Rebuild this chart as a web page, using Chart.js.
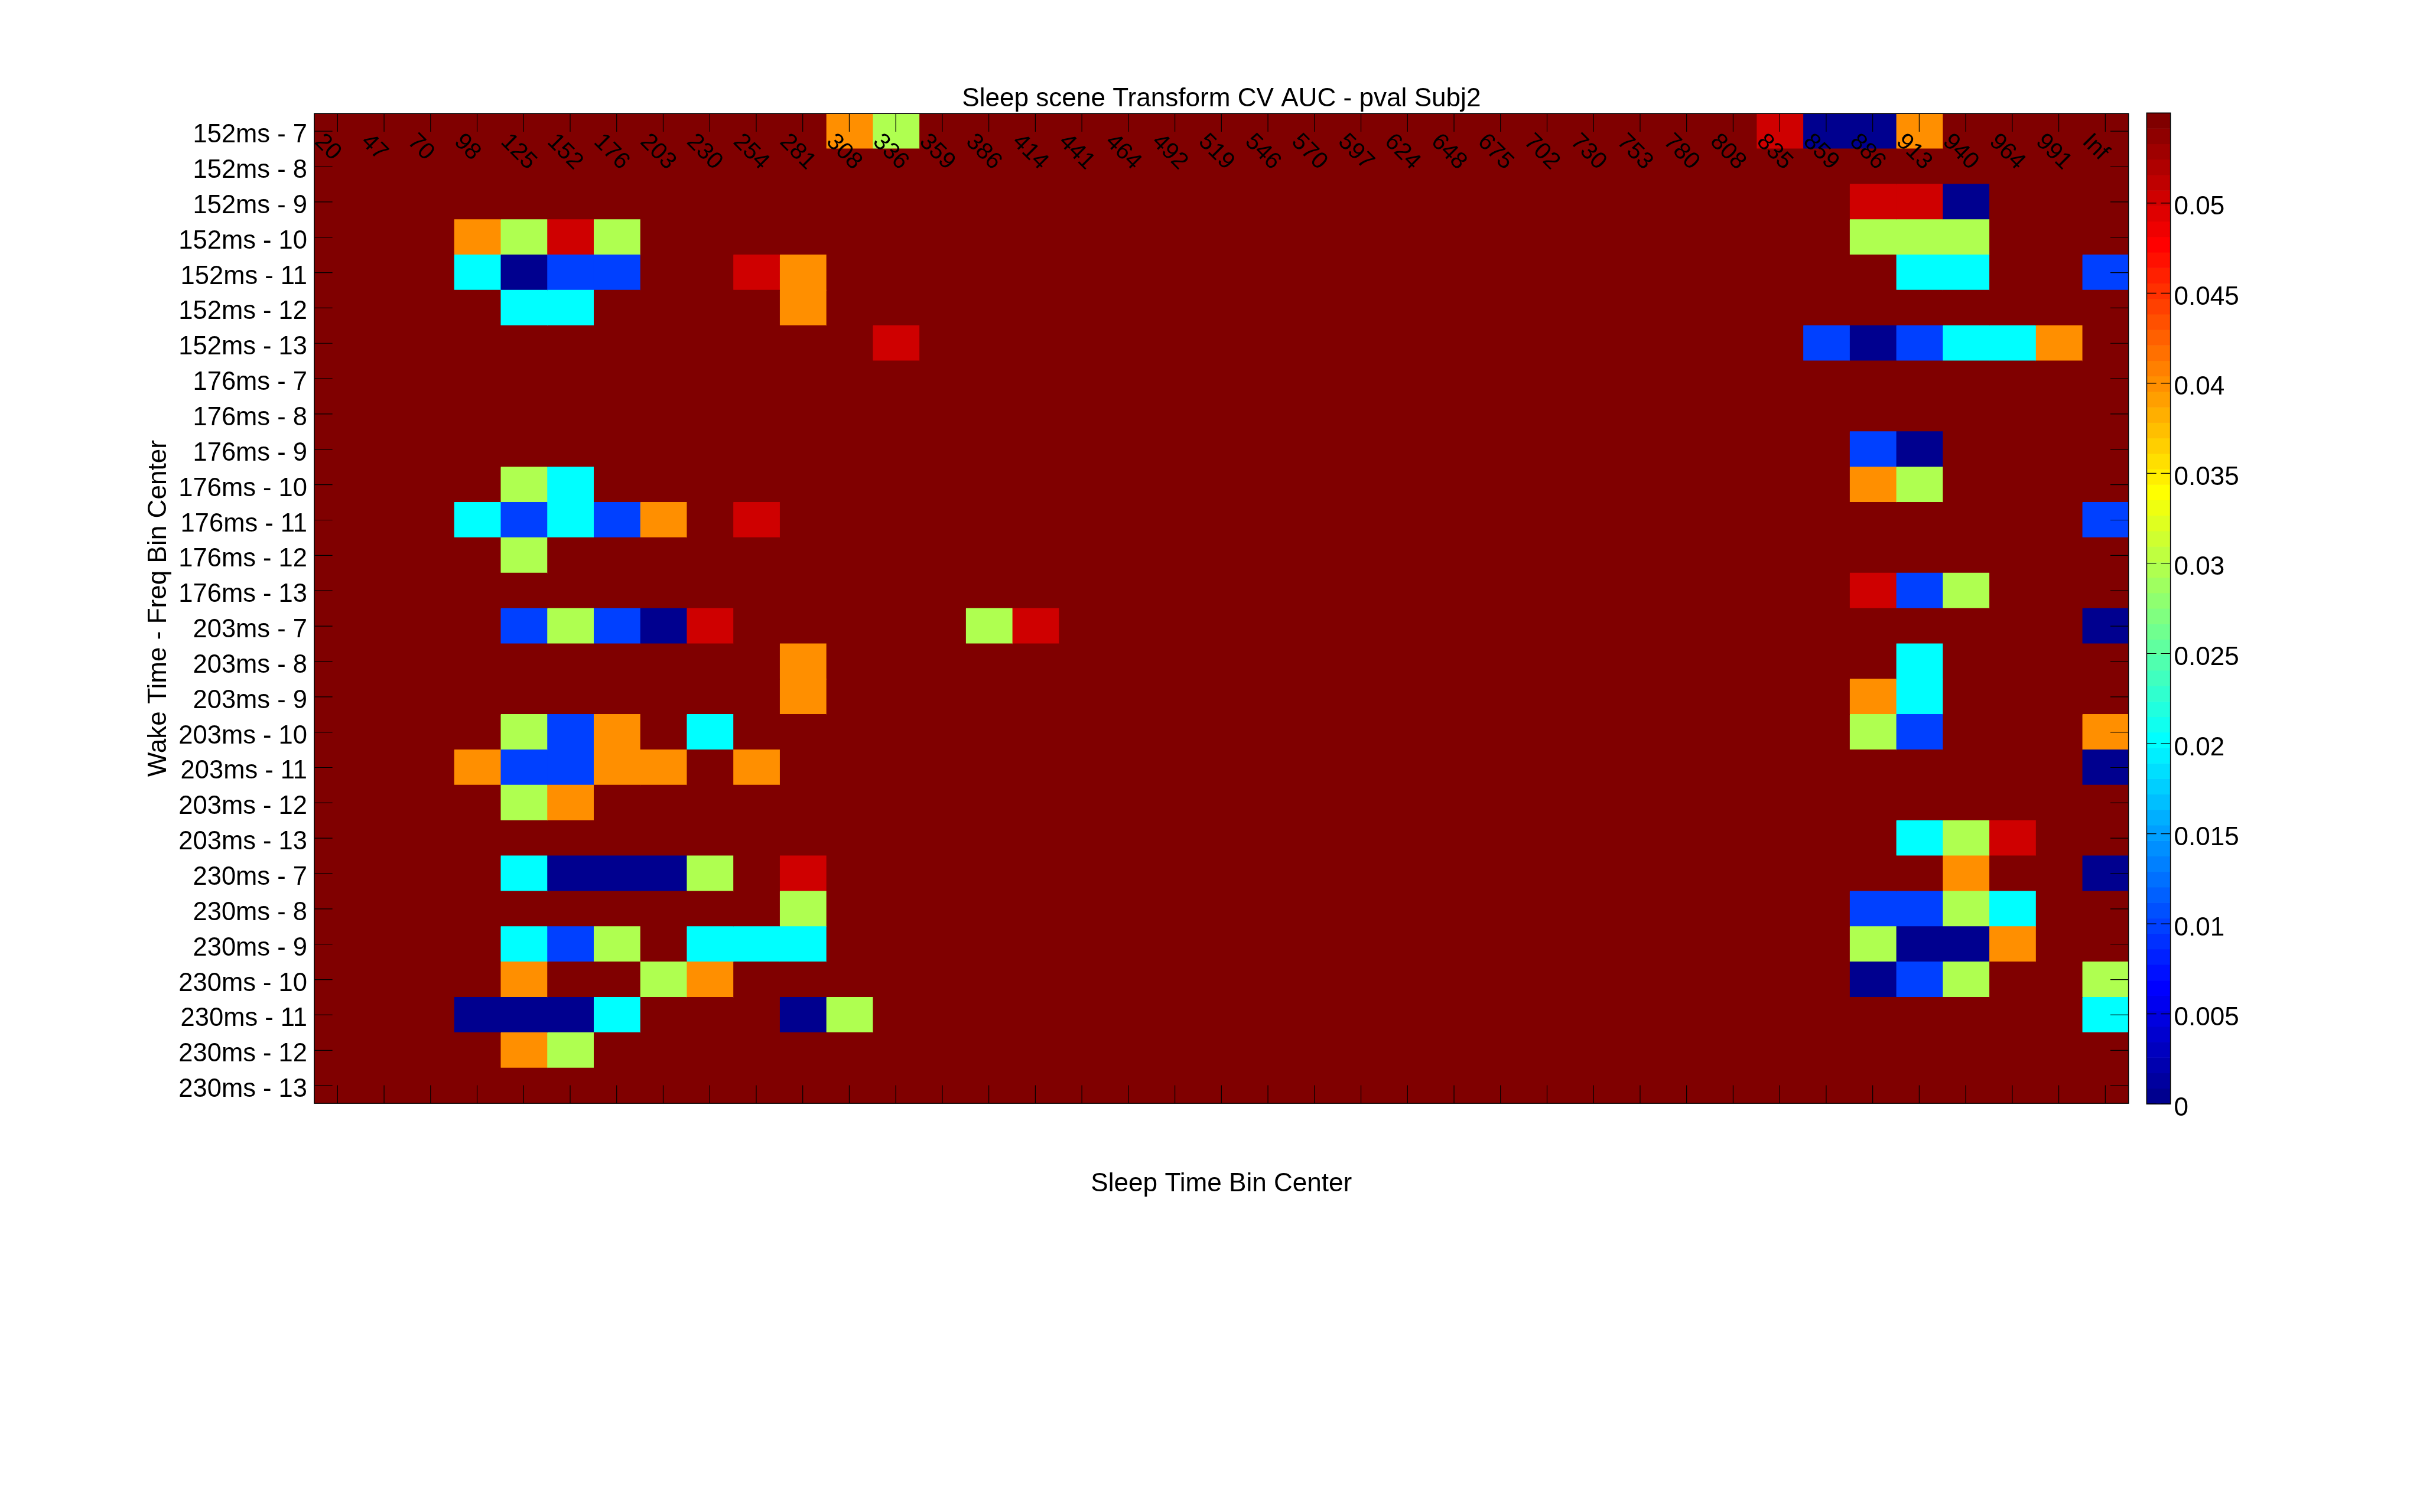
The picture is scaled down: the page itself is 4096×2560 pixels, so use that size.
<!DOCTYPE html>
<html>
<head>
<meta charset="utf-8">
<script src="https://cdn.jsdelivr.net/npm/chart.js@4/dist/chart.umd.min.js"></script>
<style>
html,body{margin:0;padding:0;background:#fff;}
#wrap{width:4096px;height:2560px;position:relative;}
</style>
</head>
<body>
<div id="wrap"><canvas id="c" width="4096" height="2560"></canvas></div>
<script>
// ---------------- DATA ----------------
// p-values; N marks cells above the colour range (not significant, drawn as the top colour)
const N = 0.1;

const sleepBins = ['20','47','70','98','125','152','176','203','230','254','281','308','336','359','386','414','441','464','492','519','546','570','597','624','648','675','702','730','753','780','808','835','859','886','913','940','964','991','Inf'];

const rowLabels = [
  '152ms - 7','152ms - 8','152ms - 9','152ms - 10','152ms - 11','152ms - 12','152ms - 13',
  '176ms - 7','176ms - 8','176ms - 9','176ms - 10','176ms - 11','176ms - 12','176ms - 13',
  '203ms - 7','203ms - 8','203ms - 9','203ms - 10','203ms - 11','203ms - 12','203ms - 13',
  '230ms - 7','230ms - 8','230ms - 9','230ms - 10','230ms - 11','230ms - 12','230ms - 13'
];

const pval152 = [
  [N,N,N,N,N,N,N,N,N,N, N,.04,.03,N,N,N,N,N,N,N, N,N,N,N,N,N,N,N,N,N, N,.05,0,0,.04,N,N,N,N],
  [N,N,N,N,N,N,N,N,N,N, N,N,N,N,N,N,N,N,N,N, N,N,N,N,N,N,N,N,N,N, N,N,N,N,N,N,N,N,N],
  [N,N,N,N,N,N,N,N,N,N, N,N,N,N,N,N,N,N,N,N, N,N,N,N,N,N,N,N,N,N, N,N,N,.05,.05,0,N,N,N],
  [N,N,N,.04,.03,.05,.03,N,N,N, N,N,N,N,N,N,N,N,N,N, N,N,N,N,N,N,N,N,N,N, N,N,N,.03,.03,.03,N,N,N],
  [N,N,N,.02,0,.01,.01,N,N,.05, .04,N,N,N,N,N,N,N,N,N, N,N,N,N,N,N,N,N,N,N, N,N,N,N,.02,.02,N,N,.01],
  [N,N,N,N,.02,.02,N,N,N,N, .04,N,N,N,N,N,N,N,N,N, N,N,N,N,N,N,N,N,N,N, N,N,N,N,N,N,N,N,N],
  [N,N,N,N,N,N,N,N,N,N, N,N,.05,N,N,N,N,N,N,N, N,N,N,N,N,N,N,N,N,N, N,N,.01,0,.01,.02,.02,.04,N]
];
const pval176 = [
  [N,N,N,N,N,N,N,N,N,N, N,N,N,N,N,N,N,N,N,N, N,N,N,N,N,N,N,N,N,N, N,N,N,N,N,N,N,N,N],
  [N,N,N,N,N,N,N,N,N,N, N,N,N,N,N,N,N,N,N,N, N,N,N,N,N,N,N,N,N,N, N,N,N,N,N,N,N,N,N],
  [N,N,N,N,N,N,N,N,N,N, N,N,N,N,N,N,N,N,N,N, N,N,N,N,N,N,N,N,N,N, N,N,N,.01,0,N,N,N,N],
  [N,N,N,N,.03,.02,N,N,N,N, N,N,N,N,N,N,N,N,N,N, N,N,N,N,N,N,N,N,N,N, N,N,N,.04,.03,N,N,N,N],
  [N,N,N,.02,.01,.02,.01,.04,N,.05, N,N,N,N,N,N,N,N,N,N, N,N,N,N,N,N,N,N,N,N, N,N,N,N,N,N,N,N,.01],
  [N,N,N,N,.03,N,N,N,N,N, N,N,N,N,N,N,N,N,N,N, N,N,N,N,N,N,N,N,N,N, N,N,N,N,N,N,N,N,N],
  [N,N,N,N,N,N,N,N,N,N, N,N,N,N,N,N,N,N,N,N, N,N,N,N,N,N,N,N,N,N, N,N,N,.05,.01,.03,N,N,N]
];
const pval203 = [
  [N,N,N,N,.01,.03,.01,0,.05,N, N,N,N,N,.03,.05,N,N,N,N, N,N,N,N,N,N,N,N,N,N, N,N,N,N,N,N,N,N,0],
  [N,N,N,N,N,N,N,N,N,N, .04,N,N,N,N,N,N,N,N,N, N,N,N,N,N,N,N,N,N,N, N,N,N,N,.02,N,N,N,N],
  [N,N,N,N,N,N,N,N,N,N, .04,N,N,N,N,N,N,N,N,N, N,N,N,N,N,N,N,N,N,N, N,N,N,.04,.02,N,N,N,N],
  [N,N,N,N,.03,.01,.04,N,.02,N, N,N,N,N,N,N,N,N,N,N, N,N,N,N,N,N,N,N,N,N, N,N,N,.03,.01,N,N,N,.04],
  [N,N,N,.04,.01,.01,.04,.04,N,.04, N,N,N,N,N,N,N,N,N,N, N,N,N,N,N,N,N,N,N,N, N,N,N,N,N,N,N,N,0],
  [N,N,N,N,.03,.04,N,N,N,N, N,N,N,N,N,N,N,N,N,N, N,N,N,N,N,N,N,N,N,N, N,N,N,N,N,N,N,N,N],
  [N,N,N,N,N,N,N,N,N,N, N,N,N,N,N,N,N,N,N,N, N,N,N,N,N,N,N,N,N,N, N,N,N,N,.02,.03,.05,N,N]
];
const pval230 = [
  [N,N,N,N,.02,0,0,0,.03,N, .05,N,N,N,N,N,N,N,N,N, N,N,N,N,N,N,N,N,N,N, N,N,N,N,N,.04,N,N,0],
  [N,N,N,N,N,N,N,N,N,N, .03,N,N,N,N,N,N,N,N,N, N,N,N,N,N,N,N,N,N,N, N,N,N,.01,.01,.03,.02,N,N],
  [N,N,N,N,.02,.01,.03,N,.02,.02, .02,N,N,N,N,N,N,N,N,N, N,N,N,N,N,N,N,N,N,N, N,N,N,.03,0,0,.04,N,N],
  [N,N,N,N,.04,N,N,.03,.04,N, N,N,N,N,N,N,N,N,N,N, N,N,N,N,N,N,N,N,N,N, N,N,N,0,.01,.03,N,N,.03],
  [N,N,N,0,0,0,.02,N,N,N, 0,.03,N,N,N,N,N,N,N,N, N,N,N,N,N,N,N,N,N,N, N,N,N,N,N,N,N,N,.02],
  [N,N,N,N,.04,.03,N,N,N,N, N,N,N,N,N,N,N,N,N,N, N,N,N,N,N,N,N,N,N,N, N,N,N,N,N,N,N,N,N],
  [N,N,N,N,N,N,N,N,N,N, N,N,N,N,N,N,N,N,N,N, N,N,N,N,N,N,N,N,N,N, N,N,N,N,N,N,N,N,N]
];

const colorMax = 0.055;
const cbarTicks = [0, 0.005, 0.01, 0.015, 0.02, 0.025, 0.03, 0.035, 0.04, 0.045, 0.05];
const cbarTickLabels = ['0','0.005','0.01','0.015','0.02','0.025','0.03','0.035','0.04','0.045','0.05'];

const titleText = 'Sleep scene Transform CV AUC - pval Subj2';
const xTitleText = 'Sleep Time Bin Center';
const yTitleText = 'Wake Time - Freq Bin Center';

// ---------------- COLOURS (jet, 64 levels) ----------------
function jetRGB(n) { // n = 1..64
  const r = n <= 24 ? 0 : n <= 40 ? (n - 24) / 16 : n <= 56 ? 1 : 1 - (n - 56) / 16;
  const g = n <= 8 ? 0 : n <= 24 ? (n - 8) / 16 : n <= 40 ? 1 : n <= 56 ? 1 - (n - 40) / 16 : 0;
  const b = n <= 8 ? 0.5 + n / 16 : n <= 24 ? 1 : n <= 40 ? 1 - (n - 24) / 16 : 0;
  return 'rgb(' + Math.round(r * 255) + ',' + Math.round(g * 255) + ',' + Math.round(b * 255) + ')';
}
function colorFor(p) {
  const n = Math.min(64, Math.floor(p / colorMax * 64) + 1);
  return jetRGB(n);
}

// ---------------- LAYOUT (output px) ----------------
const FONT = '"Liberation Sans", Arial, Helvetica, sans-serif';
const L = {
  areaLeft: 531.96, areaTop: 192.2, areaRight: 3602.7, areaBottom: 1868.1,
  cbLeft: 3633.4, cbRight: 3673.7, cbTop: 191.3, cbBottom: 1869.2,
  cbLabelX: 3679.5, tickLen: 30.7, cbTickLen: 16.3,
  titleBase: 179.7, xTitleBase: 2017.3, yTitleBase: 281.2,
  xLabBase: 241.5, xLabFont: 40, font: 44.1
};

const pRows = [...pval152, ...pval176, ...pval203, ...pval230];

const datasets = sleepBins.map((bin, c) => ({
  label: bin,
  data: pRows.map(() => [c, c + 1]),
  backgroundColor: pRows.map(row => colorFor(row[c])),
  borderWidth: 0,
  inflateAmount: 0.6,
  barPercentage: 1,
  categoryPercentage: 1,
  grouped: false
}));

const decor = {
  id: 'decor',
  afterDatasetsDraw(chart) {
    const ctx = chart.ctx;
    const xs = chart.scales.x, ys = chart.scales.y;
    const a = chart.chartArea;
    ctx.save();
    // inward tick marks
    ctx.strokeStyle = '#000';
    ctx.lineWidth = 1.2;
    ctx.beginPath();
    sleepBins.forEach((b, c) => {
      const x = xs.getPixelForValue(c + 0.5);
      ctx.moveTo(x, a.top); ctx.lineTo(x, a.top + L.tickLen);
      ctx.moveTo(x, a.bottom); ctx.lineTo(x, a.bottom - L.tickLen);
    });
    rowLabels.forEach((r, i) => {
      const y = ys.getPixelForValue(i);
      ctx.moveTo(a.left, y); ctx.lineTo(a.left + L.tickLen, y);
      ctx.moveTo(a.right, y); ctx.lineTo(a.right - L.tickLen, y);
    });
    ctx.stroke();
    // rotated sleep-time labels inside the top of the plot
    ctx.fillStyle = '#000';
    ctx.font = L.xLabFont + 'px ' + FONT;
    ctx.textAlign = 'left';
    ctx.textBaseline = 'alphabetic';
    sleepBins.forEach((b, c) => {
      const x = xs.getPixelForValue(c) - 1;
      ctx.save();
      ctx.translate(x, L.xLabBase);
      ctx.rotate(Math.PI / 4);
      ctx.fillText(b, 0, 0);
      ctx.restore();
    });
    // box
    ctx.lineWidth = 1.6;
    ctx.strokeRect(a.left, a.top, a.right - a.left, a.bottom - a.top);
    // titles
    const cx = (a.left + a.right) / 2;
    ctx.font = L.font + 'px ' + FONT;
    ctx.textAlign = 'center';
    ctx.fillText(titleText, cx, L.titleBase);
    ctx.fillText(xTitleText, cx, L.xTitleBase);
    ctx.save();
    ctx.translate(L.yTitleBase, (a.top + a.bottom) / 2);
    ctx.rotate(-Math.PI / 2);
    ctx.fillText(yTitleText, 0, 0);
    ctx.restore();
    // colour bar
    const h = L.cbBottom - L.cbTop;
    const yOf = v => L.cbBottom - v / colorMax * h;
    for (let n = 1; n <= 64; n++) {
      const y0 = L.cbBottom - (n - 1) / 64 * h;
      const y1 = L.cbBottom - n / 64 * h;
      ctx.fillStyle = jetRGB(n);
      ctx.fillRect(L.cbLeft, y1 - 0.3, L.cbRight - L.cbLeft, y0 - y1 + 0.6);
    }
    ctx.strokeStyle = '#000';
    ctx.lineWidth = 1.2;
    ctx.beginPath();
    cbarTicks.forEach(v => {
      const y = yOf(v);
      ctx.moveTo(L.cbLeft, y); ctx.lineTo(L.cbLeft + L.cbTickLen, y);
      ctx.moveTo(L.cbRight, y); ctx.lineTo(L.cbRight - L.cbTickLen, y);
    });
    ctx.stroke();
    ctx.lineWidth = 1.6;
    ctx.strokeRect(L.cbLeft, L.cbTop, L.cbRight - L.cbLeft, h);
    ctx.fillStyle = '#000';
    ctx.textAlign = 'left';
    ctx.textBaseline = 'alphabetic';
    cbarTicks.forEach((v, i) => {
      ctx.fillText(cbarTickLabels[i], L.cbLabelX, yOf(v) + 19.5);
    });
    ctx.restore();
  }
};

new Chart(document.getElementById('c').getContext('2d'), {
  type: 'bar',
  data: { labels: rowLabels, datasets },
  options: {
    indexAxis: 'y',
    responsive: false,
    devicePixelRatio: 1,
    animation: false,
    layout: { padding: { left: 0, top: L.areaTop, right: 4096 - L.areaRight, bottom: 2560 - L.areaBottom } },
    plugins: { legend: { display: false }, tooltip: { enabled: false }, title: { display: false } },
    scales: {
      x: { type: 'linear', min: 0, max: sleepBins.length, display: false },
      y: {
        type: 'category',
        offset: true,
        grid: { display: false },
        border: { display: false },
        ticks: { color: '#000', font: { family: FONT, size: 43.5 }, padding: 4, labelOffset: 7, autoSkip: false },
        afterFit(scale) { scale.width = L.areaLeft; }
      }
    }
  },
  plugins: [decor]
});
</script>
</body>
</html>
